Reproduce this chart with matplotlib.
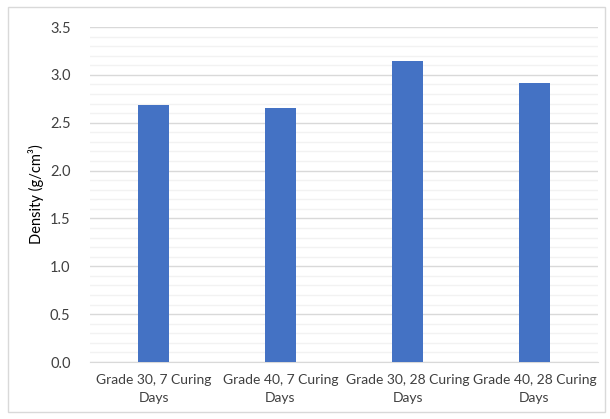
import numpy as np
import matplotlib.pyplot as plt
from matplotlib.patches import Rectangle

categories = ["Grade 30, 7 Curing\nDays", "Grade 40, 7 Curing\nDays",
              "Grade 30, 28 Curing\nDays", "Grade 40, 28 Curing\nDays"]
density = [2.69, 2.65, 3.15, 2.91]

plt.rcParams['font.family'] = ['Lato', 'DejaVu Sans']

fig = plt.figure(figsize=(6.1, 4.19), dpi=100)
ax = fig.add_axes([90 / 610, 1 - 362 / 419, 508 / 610, 335 / 419])

# chart border like excel
fig.patches.append(Rectangle((8 / 610, 7 / 419), 597 / 610, 405 / 419,
                             transform=fig.transFigure, fill=False,
                             edgecolor='#d9d9d9', linewidth=1))

x = np.arange(len(categories))
ax.bar(x, density, width=0.245, color='#4472C4', zorder=3)

ax.set_xlim(-0.5, 3.5)
ax.set_ylim(0, 3.5)
ax.set_yticks(np.arange(0, 3.51, 0.5))
ax.set_yticks(np.arange(0, 3.51, 0.1), minor=True)
ax.set_yticklabels([f"{v:.1f}" for v in np.arange(0, 3.51, 0.5)])
ax.grid(axis='y', which='minor', color='#f2f2f2', linewidth=1, zorder=0)
ax.grid(axis='y', which='major', color='#d9d9d9', linewidth=1, zorder=1)
ax.tick_params(axis='y', which='both', length=0, labelsize=10.5, colors='#404040', pad=14)
ax.tick_params(axis='x', length=0, labelsize=10, colors='#404040', pad=9)
ax.set_xticks(x)
ax.set_xticklabels(categories, linespacing=1.5)

for s in ['top', 'right', 'left']:
    ax.spines[s].set_visible(False)
ax.spines['bottom'].set_color('#d9d9d9')

ax.set_ylabel("Density (g/cm³)", fontsize=10.5, color='black', labelpad=4)

fig.savefig("out.png", dpi=100)
